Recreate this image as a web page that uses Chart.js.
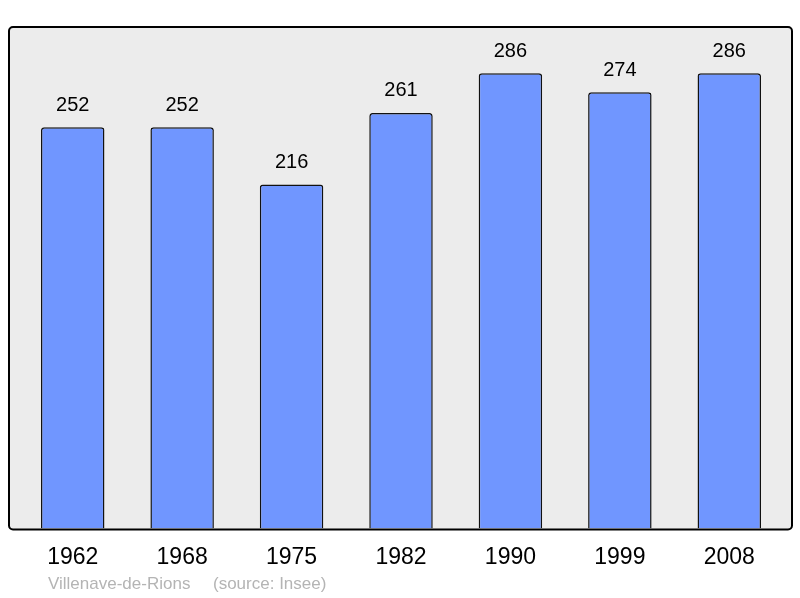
<!DOCTYPE html>
<html>
<head>
<meta charset="utf-8">
<script src="https://cdn.jsdelivr.net/npm/chart.js@4"></script>
<style>
  html, body { margin: 0; padding: 0; background: #fff; }
  #wrap { width: 800px; height: 598px; }
</style>
</head>
<body>
<div id="wrap"><canvas id="chart"></canvas></div>
<script>
// population per census year
const years = ['1962', '1968', '1975', '1982', '1990', '1999', '2008'];
const population = [252, 252, 216, 261, 286, 274, 286];
const yMax = 315;
const place = 'Villenave-de-Rions';
const source = '(source: Insee)';

// grey frame behind the bars + value labels + source line
function framePath(ctx, a) {
  ctx.beginPath();
  ctx.roundRect(a.left - 9, a.top, a.width + 17, a.height + 1, 4);
}

const frame = {
  id: 'frame',
  beforeDraw(chart) {
    const { ctx, chartArea } = chart;
    ctx.save();
    framePath(ctx, chartArea);
    ctx.fillStyle = '#ececec';
    ctx.fill();
    ctx.restore();
  },
  afterDatasetsDraw(chart) {
    const { ctx, chartArea } = chart;
    ctx.save();
    framePath(ctx, chartArea);
    ctx.lineWidth = 2;
    ctx.strokeStyle = '#000';
    ctx.stroke();

    ctx.font = '20px "Liberation Sans", Arial, sans-serif';
    ctx.fillStyle = '#000';
    ctx.textAlign = 'center';
    ctx.textBaseline = 'middle';
    chart.getDatasetMeta(0).data.forEach((bar, i) => {
      ctx.fillText(String(population[i]), bar.x, bar.y - 22);
    });

    ctx.font = '17px "Liberation Sans", Arial, sans-serif';
    ctx.fillStyle = '#b4b4b4';
    ctx.textAlign = 'left';
    ctx.fillText(place, 48, 584);
    ctx.fillText(source, 213, 584);
    ctx.restore();
  }
};

const ctx = document.getElementById('chart').getContext('2d');
new Chart(ctx, {
  type: 'bar',
  data: {
    labels: years,
    datasets: [{
      data: population,
      backgroundColor: '#7096ff',
      borderColor: '#111',
      borderWidth: 1.5,
      borderRadius: 3,
      borderSkipped: 'bottom',
      categoryPercentage: 1,
      barPercentage: 0.58
    }]
  },
  options: {
    responsive: true,
    maintainAspectRatio: false,
    animation: false,
    layout: { padding: { left: 18, right: 16, top: 27, bottom: 12 } },
    plugins: {
      legend: { display: false },
      tooltip: { enabled: false }
    },
    scales: {
      x: {
        grid: { display: false, drawTicks: false },
        border: { display: false },
        ticks: {
          color: '#000',
          padding: 15,
          font: { family: '"Liberation Sans", Arial, sans-serif', size: 23 }
        }
      },
      y: {
        display: false,
        min: 0,
        max: yMax
      }
    }
  },
  plugins: [frame]
});
</script>
</body>
</html>
